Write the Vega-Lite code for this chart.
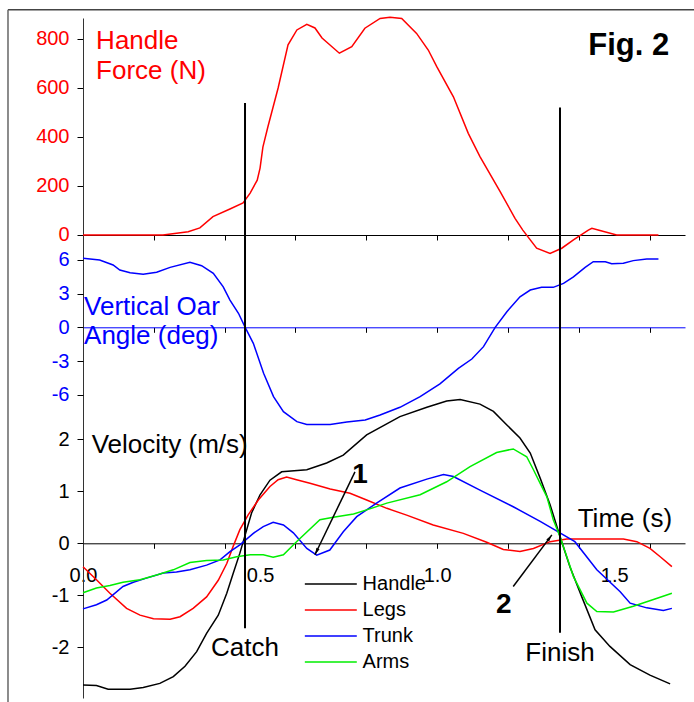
{
  "$schema": "https://vega.github.io/schema/vega-lite/v6.json",
  "width": 602,
  "height": 680,
  "autosize": {"type": "none"},
  "padding": {"left": 83, "top": 18, "right": 9, "bottom": 4},
  "background": "white",
  "config": {
    "view": {"stroke": null},
    "font": "Liberation Sans",
    "axis": {"grid": false, "labelFont": "Liberation Sans", "labelFontSize": 20, "tickColor": "black", "domainColor": "black", "tickWidth": 1, "domainWidth": 1, "labelOverlap": false},
    "text": {"font": "Liberation Sans"},
    "legend": {"labelFont": "Liberation Sans"}
  },
  "datasets": {
    "force": [
      {"t": 0, "F": 0}, {"t": 0.226, "F": 0}, {"t": 0.297, "F": 13}, {"t": 0.33, "F": 29}, {"t": 0.367, "F": 75},
      {"t": 0.415, "F": 106}, {"t": 0.452, "F": 131}, {"t": 0.472, "F": 171}, {"t": 0.492, "F": 224}, {"t": 0.5, "F": 273},
      {"t": 0.508, "F": 359}, {"t": 0.522, "F": 441}, {"t": 0.551, "F": 600}, {"t": 0.579, "F": 776}, {"t": 0.604, "F": 837},
      {"t": 0.632, "F": 860}, {"t": 0.655, "F": 845}, {"t": 0.675, "F": 804}, {"t": 0.724, "F": 742}, {"t": 0.759, "F": 769},
      {"t": 0.796, "F": 844}, {"t": 0.839, "F": 884}, {"t": 0.867, "F": 889}, {"t": 0.9, "F": 884}, {"t": 0.942, "F": 823},
      {"t": 0.975, "F": 755}, {"t": 0.999, "F": 687}, {"t": 1.046, "F": 564}, {"t": 1.088, "F": 415}, {"t": 1.121, "F": 320},
      {"t": 1.178, "F": 177}, {"t": 1.22, "F": 68}, {"t": 1.242, "F": 20}, {"t": 1.281, "F": -54}, {"t": 1.319, "F": -75},
      {"t": 1.352, "F": -54}, {"t": 1.385, "F": -20}, {"t": 1.427, "F": 20}, {"t": 1.437, "F": 27}, {"t": 1.46, "F": 18},
      {"t": 1.507, "F": 0}, {"t": 1.625, "F": 0}
    ],
    "angle": [
      {"t": 0, "A": 6.14}, {"t": 0.047, "A": 5.99}, {"t": 0.085, "A": 5.55}, {"t": 0.104, "A": 5.1}, {"t": 0.133, "A": 4.86},
      {"t": 0.17, "A": 4.72}, {"t": 0.208, "A": 4.9}, {"t": 0.246, "A": 5.34}, {"t": 0.302, "A": 5.79}, {"t": 0.335, "A": 5.49},
      {"t": 0.368, "A": 4.81}, {"t": 0.396, "A": 3.6}, {"t": 0.415, "A": 2.43}, {"t": 0.439, "A": 1.25}, {"t": 0.458, "A": 0},
      {"t": 0.481, "A": -1.42}, {"t": 0.51, "A": -4.09}, {"t": 0.538, "A": -6.17}, {"t": 0.566, "A": -7.51}, {"t": 0.604, "A": -8.4},
      {"t": 0.632, "A": -8.64}, {"t": 0.698, "A": -8.64}, {"t": 0.745, "A": -8.43}, {"t": 0.797, "A": -8.25}, {"t": 0.839, "A": -7.81},
      {"t": 0.895, "A": -7.12}, {"t": 0.952, "A": -6.17}, {"t": 1.008, "A": -5.04}, {"t": 1.06, "A": -3.65}, {"t": 1.098, "A": -2.82},
      {"t": 1.131, "A": -1.72}, {"t": 1.164, "A": 0}, {"t": 1.197, "A": 1.39}, {"t": 1.234, "A": 2.72}, {"t": 1.263, "A": 3.32},
      {"t": 1.295, "A": 3.56}, {"t": 1.328, "A": 3.56}, {"t": 1.357, "A": 3.91}, {"t": 1.385, "A": 4.5}, {"t": 1.418, "A": 5.34},
      {"t": 1.441, "A": 5.84}, {"t": 1.475, "A": 5.84}, {"t": 1.493, "A": 5.67}, {"t": 1.526, "A": 5.7}, {"t": 1.554, "A": 5.94},
      {"t": 1.592, "A": 6.09}, {"t": 1.625, "A": 6.09}
    ],
    "velocity": [
      {"series": "Handle", "t": 0, "v": -2.72}, {"series": "Handle", "t": 0.038, "v": -2.73}, {"series": "Handle", "t": 0.071, "v": -2.8},
      {"series": "Handle", "t": 0.133, "v": -2.8}, {"series": "Handle", "t": 0.17, "v": -2.77}, {"series": "Handle", "t": 0.217, "v": -2.69},
      {"series": "Handle", "t": 0.255, "v": -2.56}, {"series": "Handle", "t": 0.288, "v": -2.36}, {"series": "Handle", "t": 0.321, "v": -2.08},
      {"series": "Handle", "t": 0.349, "v": -1.73}, {"series": "Handle", "t": 0.382, "v": -1.38}, {"series": "Handle", "t": 0.406, "v": -0.96},
      {"series": "Handle", "t": 0.424, "v": -0.58}, {"series": "Handle", "t": 0.443, "v": -0.19}, {"series": "Handle", "t": 0.458, "v": 0.16},
      {"series": "Handle", "t": 0.476, "v": 0.58}, {"series": "Handle", "t": 0.5, "v": 0.93}, {"series": "Handle", "t": 0.528, "v": 1.21},
      {"series": "Handle", "t": 0.561, "v": 1.37}, {"series": "Handle", "t": 0.632, "v": 1.41}, {"series": "Handle", "t": 0.688, "v": 1.54},
      {"series": "Handle", "t": 0.735, "v": 1.69}, {"series": "Handle", "t": 0.801, "v": 2.08}, {"series": "Handle", "t": 0.895, "v": 2.43},
      {"series": "Handle", "t": 0.971, "v": 2.61}, {"series": "Handle", "t": 1.027, "v": 2.73}, {"series": "Handle", "t": 1.065, "v": 2.76},
      {"series": "Handle", "t": 1.121, "v": 2.67}, {"series": "Handle", "t": 1.159, "v": 2.53}, {"series": "Handle", "t": 1.197, "v": 2.27},
      {"series": "Handle", "t": 1.234, "v": 2.02}, {"series": "Handle", "t": 1.263, "v": 1.73}, {"series": "Handle", "t": 1.291, "v": 1.25},
      {"series": "Handle", "t": 1.319, "v": 0.74}, {"series": "Handle", "t": 1.347, "v": 0.13}, {"series": "Handle", "t": 1.375, "v": -0.45},
      {"series": "Handle", "t": 1.408, "v": -1.02}, {"series": "Handle", "t": 1.446, "v": -1.66}, {"series": "Handle", "t": 1.488, "v": -1.98},
      {"series": "Handle", "t": 1.545, "v": -2.33}, {"series": "Handle", "t": 1.601, "v": -2.53}, {"series": "Handle", "t": 1.658, "v": -2.7},

      {"series": "Legs", "t": 0, "v": -0.45}, {"series": "Legs", "t": 0.038, "v": -0.7}, {"series": "Legs", "t": 0.076, "v": -0.96},
      {"series": "Legs", "t": 0.123, "v": -1.25}, {"series": "Legs", "t": 0.161, "v": -1.38}, {"series": "Legs", "t": 0.199, "v": -1.45},
      {"series": "Legs", "t": 0.246, "v": -1.46}, {"series": "Legs", "t": 0.274, "v": -1.41}, {"series": "Legs", "t": 0.311, "v": -1.25},
      {"series": "Legs", "t": 0.349, "v": -1.03}, {"series": "Legs", "t": 0.382, "v": -0.71}, {"series": "Legs", "t": 0.406, "v": -0.39},
      {"series": "Legs", "t": 0.424, "v": -0.06}, {"series": "Legs", "t": 0.443, "v": 0.26}, {"series": "Legs", "t": 0.466, "v": 0.54},
      {"series": "Legs", "t": 0.495, "v": 0.83}, {"series": "Legs", "t": 0.528, "v": 1.09}, {"series": "Legs", "t": 0.551, "v": 1.22},
      {"series": "Legs", "t": 0.575, "v": 1.27}, {"series": "Legs", "t": 0.603, "v": 1.22}, {"series": "Legs", "t": 0.641, "v": 1.15},
      {"series": "Legs", "t": 0.698, "v": 1.04}, {"series": "Legs", "t": 0.754, "v": 0.96}, {"series": "Legs", "t": 0.801, "v": 0.83},
      {"series": "Legs", "t": 0.858, "v": 0.67}, {"series": "Legs", "t": 0.914, "v": 0.54}, {"series": "Legs", "t": 0.989, "v": 0.35},
      {"series": "Legs", "t": 1.074, "v": 0.19}, {"series": "Legs", "t": 1.14, "v": 0.02}, {"series": "Legs", "t": 1.187, "v": -0.12},
      {"series": "Legs", "t": 1.234, "v": -0.16}, {"series": "Legs", "t": 1.272, "v": -0.1}, {"series": "Legs", "t": 1.319, "v": 0.03},
      {"series": "Legs", "t": 1.366, "v": 0.08}, {"series": "Legs", "t": 1.526, "v": 0.08}, {"series": "Legs", "t": 1.564, "v": 0.03},
      {"series": "Legs", "t": 1.601, "v": -0.1}, {"series": "Legs", "t": 1.63, "v": -0.26}, {"series": "Legs", "t": 1.663, "v": -0.45},

      {"series": "Trunk", "t": 0, "v": -1.26}, {"series": "Trunk", "t": 0.038, "v": -1.18}, {"series": "Trunk", "t": 0.067, "v": -1.09},
      {"series": "Trunk", "t": 0.113, "v": -0.83}, {"series": "Trunk", "t": 0.142, "v": -0.75}, {"series": "Trunk", "t": 0.179, "v": -0.67},
      {"series": "Trunk", "t": 0.227, "v": -0.57}, {"series": "Trunk", "t": 0.264, "v": -0.55}, {"series": "Trunk", "t": 0.302, "v": -0.51},
      {"series": "Trunk", "t": 0.349, "v": -0.42}, {"series": "Trunk", "t": 0.387, "v": -0.32}, {"series": "Trunk", "t": 0.415, "v": -0.16},
      {"series": "Trunk", "t": 0.443, "v": -0.03}, {"series": "Trunk", "t": 0.481, "v": 0.19}, {"series": "Trunk", "t": 0.509, "v": 0.32},
      {"series": "Trunk", "t": 0.537, "v": 0.4}, {"series": "Trunk", "t": 0.566, "v": 0.35}, {"series": "Trunk", "t": 0.594, "v": 0.2},
      {"series": "Trunk", "t": 0.632, "v": -0.1}, {"series": "Trunk", "t": 0.66, "v": -0.23}, {"series": "Trunk", "t": 0.697, "v": -0.13},
      {"series": "Trunk", "t": 0.735, "v": 0.22}, {"series": "Trunk", "t": 0.773, "v": 0.51}, {"series": "Trunk", "t": 0.829, "v": 0.77},
      {"series": "Trunk", "t": 0.895, "v": 1.06}, {"series": "Trunk", "t": 0.971, "v": 1.23}, {"series": "Trunk", "t": 1.018, "v": 1.32},
      {"series": "Trunk", "t": 1.046, "v": 1.28}, {"series": "Trunk", "t": 1.121, "v": 1.02}, {"series": "Trunk", "t": 1.215, "v": 0.7},
      {"series": "Trunk", "t": 1.291, "v": 0.42}, {"series": "Trunk", "t": 1.342, "v": 0.22}, {"series": "Trunk", "t": 1.389, "v": 0.03},
      {"series": "Trunk", "t": 1.451, "v": -0.51}, {"series": "Trunk", "t": 1.517, "v": -0.93}, {"series": "Trunk", "t": 1.545, "v": -1.15},
      {"series": "Trunk", "t": 1.592, "v": -1.24}, {"series": "Trunk", "t": 1.639, "v": -1.29}, {"series": "Trunk", "t": 1.663, "v": -1.25},

      {"series": "Arms", "t": 0, "v": -0.95}, {"series": "Arms", "t": 0.038, "v": -0.86}, {"series": "Arms", "t": 0.076, "v": -0.81},
      {"series": "Arms", "t": 0.113, "v": -0.75}, {"series": "Arms", "t": 0.161, "v": -0.7}, {"series": "Arms", "t": 0.208, "v": -0.61},
      {"series": "Arms", "t": 0.255, "v": -0.51}, {"series": "Arms", "t": 0.302, "v": -0.37}, {"series": "Arms", "t": 0.349, "v": -0.33},
      {"series": "Arms", "t": 0.396, "v": -0.32}, {"series": "Arms", "t": 0.434, "v": -0.26}, {"series": "Arms", "t": 0.472, "v": -0.22},
      {"series": "Arms", "t": 0.509, "v": -0.22}, {"series": "Arms", "t": 0.537, "v": -0.27}, {"series": "Arms", "t": 0.566, "v": -0.22},
      {"series": "Arms", "t": 0.603, "v": 0.03}, {"series": "Arms", "t": 0.669, "v": 0.45}, {"series": "Arms", "t": 0.707, "v": 0.5},
      {"series": "Arms", "t": 0.764, "v": 0.56}, {"series": "Arms", "t": 0.801, "v": 0.64}, {"series": "Arms", "t": 0.858, "v": 0.77},
      {"series": "Arms", "t": 0.952, "v": 0.93}, {"series": "Arms", "t": 1.027, "v": 1.18}, {"series": "Arms", "t": 1.093, "v": 1.47},
      {"series": "Arms", "t": 1.168, "v": 1.74}, {"series": "Arms", "t": 1.215, "v": 1.81}, {"series": "Arms", "t": 1.253, "v": 1.66},
      {"series": "Arms", "t": 1.272, "v": 1.41}, {"series": "Arms", "t": 1.291, "v": 1.15}, {"series": "Arms", "t": 1.31, "v": 0.89},
      {"series": "Arms", "t": 1.328, "v": 0.45}, {"series": "Arms", "t": 1.347, "v": 0.13}, {"series": "Arms", "t": 1.385, "v": -0.64},
      {"series": "Arms", "t": 1.423, "v": -1.15}, {"series": "Arms", "t": 1.451, "v": -1.31}, {"series": "Arms", "t": 1.498, "v": -1.32},
      {"series": "Arms", "t": 1.554, "v": -1.21}, {"series": "Arms", "t": 1.611, "v": -1.08}, {"series": "Arms", "t": 1.663, "v": -0.96}
    ],
    "events": [
      {"event": "Catch", "t": 0.4575, "top": 8.45, "bottom": -1.63},
      {"event": "Finish", "t": 1.347, "top": 8.36, "bottom": -1.72}
    ],
    "frameTop": [
      {"t": -0.2118, "t2": 1.7255, "v": 10.24}
    ],
    "frameLeft": [
      {"t": -0.2118, "v": 10.24, "v2": -3.05}
    ],
    "forceText": [
      {"text": "Handle", "t": 0.037, "F": 758},
      {"text": "Force (N)", "t": 0.037, "F": 635.5}
    ],
    "figText": [{"text": "Fig. 2", "t": 1.427, "F": 735}],
    "angleText": [
      {"text": "Vertical Oar", "t": 0.003, "A": 1.14},
      {"text": "Angle (deg)", "t": 0.003, "A": -1.49}
    ],
    "velText": [
      {"text": "Velocity (m/s)", "t": 0.0245, "v": 1.73},
      {"text": "Time (s)", "t": 1.397, "v": 0.32}
    ],
    "numText": [
      {"text": "1", "t": 0.76, "v": 1.16},
      {"text": "2", "t": 1.166, "v": -1.34}
    ],
    "arrows": [
      {"id": 1, "t": 0.768, "v": 1.37, "t2": 0.655, "v2": -0.22},
      {"id": 2, "t": 1.215, "v": -0.83, "t2": 1.324, "v2": 0.16}
    ]
  },
  "layer": [
    {
      "layer": [
        {
          "data": {"name": "force"},
          "mark": {"type": "line", "color": "#ff0000", "strokeWidth": 1.5},
          "encoding": {
            "x": {"field": "t", "type": "quantitative",
              "scale": {"domain": [0, 1.7], "nice": false, "zero": false},
              "axis": {"orient": "bottom", "offset": -463, "values": [0,0.1,0.2,0.3,0.4,0.5,0.6,0.7,0.8,0.9,1.0,1.1,1.2,1.3,1.4,1.5,1.6,1.7], "labels": false, "tickSize": 5, "title": null, "domain": true}},
            "y": {"field": "F", "type": "quantitative",
              "scale": {"domain": [-1889.8, 885.7], "nice": false, "zero": false},
              "axis": {"orient": "left", "values": [0, 200, 400, 600, 800], "labelColor": "#ff0000", "tickSize": 6, "labelPadding": 8, "title": null, "domain": true, "domainColor": "#333333", "labelOverlap": false}}
          }
        },
        {
          "data": {"name": "forceText"},
          "mark": {"type": "text", "color": "#ff0000", "fontSize": 26, "align": "left", "baseline": "alphabetic"},
          "encoding": {
            "x": {"field": "t", "type": "quantitative"},
            "y": {"field": "F", "type": "quantitative"},
            "text": {"field": "text"}
          }
        },
        {
          "data": {"name": "figText"},
          "mark": {"type": "text", "color": "black", "fontSize": 31, "fontWeight": "bold", "align": "left", "baseline": "alphabetic"},
          "encoding": {
            "x": {"field": "t", "type": "quantitative"},
            "y": {"field": "F", "type": "quantitative"},
            "text": {"field": "text"}
          }
        }
      ]
    },
    {
      "layer": [
        {
          "data": {"name": "angle"},
          "mark": {"type": "line", "color": "#0000ff", "strokeWidth": 1.5},
          "encoding": {
            "x": {"field": "t", "type": "quantitative",
              "scale": {"domain": [0, 1.7], "nice": false, "zero": false},
              "axis": {"orient": "bottom", "offset": -370.7, "values": [0,0.1,0.2,0.3,0.4,0.5,0.6,0.7,0.8,0.9,1.0,1.1,1.2,1.3,1.4,1.5,1.6,1.7], "labels": false, "tickSize": 5, "title": null, "domain": true, "domainColor": "#0000ff"}},
            "y": {"field": "A", "type": "quantitative",
              "scale": {"domain": [-33.0, 27.54], "nice": false, "zero": false},
              "axis": {"orient": "left", "values": [-6, -3, 0, 3, 6], "labelExpr": "datum.value < 0 ? '-' + abs(datum.value) : '' + datum.value", "labelColor": "#0000ff", "tickSize": 6, "labelPadding": 8, "title": null, "domain": false, "labelOverlap": false}}
          }
        },
        {
          "data": {"name": "angleText"},
          "mark": {"type": "text", "color": "#0000ff", "fontSize": 26, "align": "left", "baseline": "alphabetic"},
          "encoding": {
            "x": {"field": "t", "type": "quantitative"},
            "y": {"field": "A", "type": "quantitative"},
            "text": {"field": "text"}
          }
        }
      ]
    },
    {
      "layer": [
        {
          "data": {"name": "velocity"},
          "mark": {"type": "line", "strokeWidth": 1.5},
          "encoding": {
            "x": {"field": "t", "type": "quantitative",
              "scale": {"domain": [0, 1.7], "nice": false, "zero": false},
              "axis": {"orient": "bottom", "offset": -154.7, "values": [0, 0.5, 1.0, 1.5], "format": ".1f", "labelFlush": false, "labelOverlap": false, "labelColor": "black", "ticks": false, "labelPadding": 22, "title": null, "domain": true}},
            "y": {"field": "v", "type": "quantitative",
              "scale": {"domain": [-2.97, 10.08], "nice": false, "zero": false},
              "axis": {"orient": "left", "values": [-2, -1, 0, 1, 2], "labelExpr": "datum.value < 0 ? '-' + abs(datum.value) : '' + datum.value", "labelColor": "black", "tickSize": 6, "labelPadding": 8, "title": null, "domain": false, "labelOverlap": false}},
            "color": {"field": "series", "type": "nominal",
              "scale": {"domain": ["Handle", "Legs", "Trunk", "Arms"], "range": ["#000000", "#ff0000", "#0000ff", "#00ee00"]},
              "legend": {"orient": "none", "legendX": 258.6, "legendY": 556, "title": null, "symbolType": "M-9,0H1", "symbolSize": 108, "symbolStrokeWidth": 1.5, "labelFontSize": 20, "labelOffset": 1, "rowPadding": 6, "padding": 0, "labelColor": "black"}}
          }
        },
        {
          "data": {"name": "frameTop"},
          "mark": {"type": "rule", "color": "#444444", "strokeWidth": 1.5},
          "encoding": {
            "x": {"field": "t", "type": "quantitative"},
            "x2": {"field": "t2"},
            "y": {"field": "v", "type": "quantitative"}
          }
        },
        {
          "data": {"name": "frameLeft"},
          "mark": {"type": "rule", "color": "#666666", "strokeWidth": 1.5},
          "encoding": {
            "x": {"field": "t", "type": "quantitative"},
            "y": {"field": "v", "type": "quantitative"},
            "y2": {"field": "v2"}
          }
        },
        {
          "data": {"name": "velText"},
          "mark": {"type": "text", "color": "black", "fontSize": 26, "align": "left", "baseline": "alphabetic"},
          "encoding": {
            "x": {"field": "t", "type": "quantitative"},
            "y": {"field": "v", "type": "quantitative"},
            "text": {"field": "text"}
          }
        },
        {
          "data": {"name": "numText"},
          "mark": {"type": "text", "color": "black", "fontSize": 28, "fontWeight": "bold", "align": "left", "baseline": "alphabetic"},
          "encoding": {
            "x": {"field": "t", "type": "quantitative"},
            "y": {"field": "v", "type": "quantitative"},
            "text": {"field": "text"}
          }
        },
        {
          "data": {"name": "arrows"},
          "mark": {"type": "rule", "color": "black", "strokeWidth": 1.5},
          "encoding": {
            "x": {"field": "t", "type": "quantitative"},
            "y": {"field": "v", "type": "quantitative"},
            "x2": {"field": "t2"},
            "y2": {"field": "v2"}
          }
        },
        {
          "data": {"name": "arrows"},
          "transform": [{"filter": "datum.id == 1"}],
          "mark": {"type": "point", "shape": "M0,0L-0.45,1.8L0.45,1.8Z", "filled": true, "color": "black", "opacity": 1, "size": 60, "angle": 205.7},
          "encoding": {
            "x": {"field": "t2", "type": "quantitative"},
            "y": {"field": "v2", "type": "quantitative"}
          }
        },
        {
          "data": {"name": "arrows"},
          "transform": [{"filter": "datum.id == 2"}],
          "mark": {"type": "point", "shape": "M0,0L-0.45,1.8L0.45,1.8Z", "filled": true, "color": "black", "opacity": 1, "size": 60, "angle": 36.6},
          "encoding": {
            "x": {"field": "t2", "type": "quantitative"},
            "y": {"field": "v2", "type": "quantitative"}
          }
        }
      ]
    },
    {
      "layer": [
        {
          "data": {"name": "events"},
          "mark": {"type": "rule", "color": "black", "strokeWidth": 2},
          "encoding": {
            "x": {"field": "t", "type": "quantitative",
              "scale": {"domain": [0, 1.7], "nice": false, "zero": false},
              "axis": {"orient": "bottom", "offset": -154.7, "values": [0,0.1,0.2,0.3,0.4,0.5,0.6,0.7,0.8,0.9,1.0,1.1,1.2,1.3,1.4,1.5,1.6,1.7], "labels": false, "tickSize": 5, "title": null, "domain": false}},
            "y": {"field": "top", "type": "quantitative",
              "scale": {"domain": [-2.97, 10.08], "nice": false, "zero": false}, "axis": null},
            "y2": {"field": "bottom"}
          }
        },
        {
          "data": {"name": "events"},
          "mark": {"type": "text", "color": "black", "fontSize": 26, "align": "center", "baseline": "alphabetic", "dy": 28},
          "encoding": {
            "x": {"field": "t", "type": "quantitative"},
            "y": {"field": "bottom", "type": "quantitative", "axis": null},
            "text": {"field": "event"}
          }
        }
      ]
    }
  ],
  "resolve": {"scale": {"y": "independent"}, "axis": {"x": "independent", "y": "independent"}}
}
